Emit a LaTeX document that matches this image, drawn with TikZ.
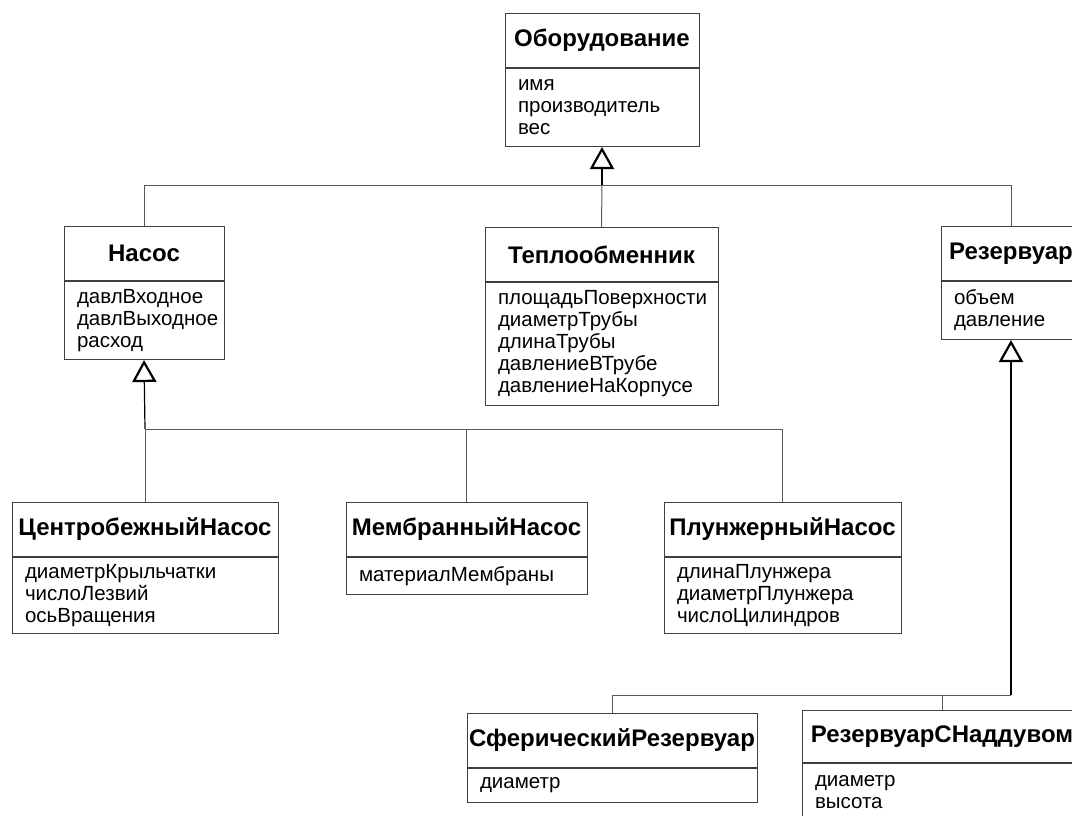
\documentclass[tikz,border=0pt]{standalone}
\usepackage{fontspec}
\setmainfont{Liberation Sans}
\usetikzlibrary{arrows.meta, positioning}

\begin{document}
\begin{tikzpicture}[
    x=1pt, y=-1pt,
    ctitle/.style={draw=black!75, line width=1pt, anchor=north, minimum height=54pt, inner xsep=1pt, font=\fontsize{24}{28}\selectfont\bfseries},
    cattr/.style={draw=black!75, line width=1pt, anchor=north, align=left, inner xsep=13pt, font=\fontsize{20.5}{22}\selectfont},
    branch/.style={draw=black!65, line width=1pt},
    inherit/.style={draw=black, line width=1.2pt, -{Triangle[open, length=22pt, width=24pt, line width=2.2pt]}}
]
    \useasboundingbox (0,0) rectangle (1072,816);
    \clip (0,0) rectangle (1072,816);

    % top class
    \node[ctitle, minimum width=194pt] (equip) at (602,13) {Оборудование};
    \node[cattr, text width=168pt, minimum height=78pt] (equip-a) at (equip.south) {имя\\производитель\\вес};

    % second row
    \node[ctitle, minimum width=160pt] (pump) at (144,226) {Насос};
    \node[cattr, text width=134pt, minimum height=78pt] (pump-a) at (pump.south) {давлВходное\\давлВыходное\\расход};

    \node[ctitle, minimum width=233pt] (heat) at (601.5,227) {Теплообменник};
    \node[cattr, text width=207pt, minimum height=123pt] (heat-a) at (heat.south) {площадьПоверхности\\диаметрТрубы\\длинаТрубы\\давлениеВТрубе\\давлениеНаКорпусе};

    \node[ctitle, minimum width=140pt] (tank) at (1011,226) {Резервуар};
    \node[cattr, text width=114pt, minimum height=58pt] (tank-a) at (tank.south) {объем\\давление};

    % pumps
    \node[ctitle, minimum width=266pt] (centr) at (145,502) {ЦентробежныйНасос};
    \node[cattr, text width=240pt, minimum height=76pt] (centr-a) at (centr.south) {диаметрКрыльчатки\\числоЛезвий\\осьВращения};

    \node[ctitle, minimum width=241pt] (memb) at (466.5,502) {МембранныйНасос};
    \node[cattr, text width=215pt, minimum height=37pt] (memb-a) at (memb.south) {материалМембраны};

    \node[ctitle, minimum width=237pt] (plunger) at (782.5,502) {ПлунжерныйНасос};
    \node[cattr, text width=211pt, minimum height=76pt] (plunger-a) at (plunger.south) {длинаПлунжера\\диаметрПлунжера\\числоЦилиндров};

    % tanks
    \node[ctitle, minimum width=290pt] (sph) at (612,713) {СферическийРезервуар};
    \node[cattr, text width=264pt, minimum height=34pt] (sph-a) at (sph.south) {диаметр};

    \node[ctitle, minimum width=280pt, minimum height=52pt] (press) at (942,710) {РезервуарСНаддувом};
    \node[cattr, text width=254pt, minimum height=58pt] (press-a) at (press.south) {диаметр\\высота};

    % generalization
    \coordinate (j-equip) at (602,185);
    \coordinate (j-pump) at (145,429);
    \coordinate (j-tank) at (1011,695);

    \draw[branch] (pump.north) |- (j-equip);
    \draw[branch] (tank.north) |- (j-equip);
    \draw[branch] (heat.north) -- (j-equip);
    \draw[inherit] (j-equip) -- (equip-a.south);

    \draw[branch] (centr.north) -- (j-pump);
    \draw[branch] (memb.north) |- (j-pump);
    \draw[branch] (plunger.north) |- (j-pump);
    \draw[inherit] (j-pump) -- (pump-a.south);

    \draw[branch] (sph.north) |- (j-tank);
    \draw[branch] (press.north) |- (j-tank);
    \draw[inherit] (j-tank) -- (tank-a.south);
\end{tikzpicture}
\end{document}
